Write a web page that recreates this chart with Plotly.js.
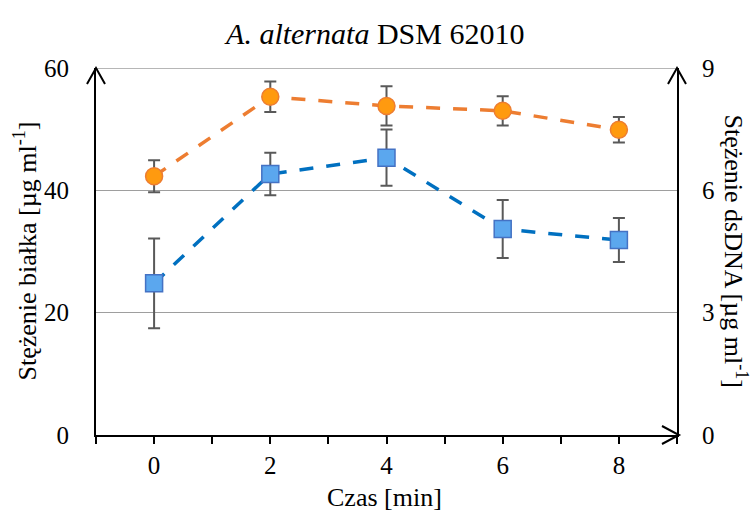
<!DOCTYPE html>
<html>
<head>
<meta charset="utf-8">
<script src="https://cdn.plot.ly/plotly-3.0.1.min.js"></script>
<style>html,body{margin:0;padding:0;background:#fff;}#chart{width:752px;height:514px;}</style>
</head>
<body>
<div id="chart"></div>
<script>
// Data
var times = [0, 2, 4, 6, 8];
var protein = [42.3, 55.3, 53.8, 53.0, 49.9];       // left axis [µg ml-1]
var proteinErr = [2.6, 2.5, 3.2, 2.4, 2.1];
var dsdna = [3.72, 6.4, 6.8, 5.05, 4.78];            // right axis [µg ml-1]
var dsdnaErr = [1.1, 0.52, 0.69, 0.71, 0.54];
var xTickVals = [-1, 0, 1, 2, 3, 4, 5, 6, 7, 8, 9];
var xTickText = ["", "0", "", "2", "", "4", "", "6", "", "8", ""];
var yTickVals = [0, 20, 40, 60];
var y2TickVals = [0, 3, 6, 9];

var FONT = "Liberation Serif, Times New Roman, serif";
var GRID = '#9E9E9E';

var traceProtein = {
  x: times, y: protein, type: 'scatter', mode: 'lines+markers', yaxis: 'y',
  line: {color: '#ED7D31', width: 3.5, dash: '14px,13px'},
  marker: {symbol: 'circle', size: 17, color: '#FF9A0F', line: {color: '#ED7D31', width: 1.5}},
  error_y: {type: 'data', array: proteinErr, visible: true, color: '#595959', thickness: 2, width: 6},
  showlegend: false, hoverinfo: 'x+y'
};
var traceDNA = {
  x: times, y: dsdna, type: 'scatter', mode: 'lines+markers', yaxis: 'y2',
  line: {color: '#0070C0', width: 3.5, dash: '14px,13px'},
  marker: {symbol: 'square', size: 17, color: '#5BA7EE', line: {color: '#4472C4', width: 1.5}},
  error_y: {type: 'data', array: dsdnaErr, visible: true, color: '#595959', thickness: 2, width: 6},
  showlegend: false, hoverinfo: 'x+y'
};

function chevronUp(xa, ya) {
  return {type: 'path', xref: 'paper', yref: 'paper', xsizemode: 'pixel', ysizemode: 'pixel',
    xanchor: xa, yanchor: ya, path: 'M-9,-16 L0,0 L9,-16', line: {color: '#000', width: 2}};
}

var layout = {
  width: 752, height: 514,
  margin: {l: 96, r: 75, t: 68, b: 79},
  paper_bgcolor: '#fff', plot_bgcolor: '#fff',
  font: {family: FONT, size: 25, color: '#000'},
  title: {text: '<i>A. alternata</i> DSM 62010', font: {family: FONT, size: 30, color: '#000'},
    x: 0.499, xref: 'container', xanchor: 'center', y: 1 - 33/514, yref: 'container', yanchor: 'middle'},
  xaxis: {range: [-1, 9], tickmode: 'array', tickvals: xTickVals, ticktext: xTickText,
    ticks: 'outside', ticklen: 7, tickwidth: 2, tickcolor: '#000',
    showline: true, linecolor: '#000', linewidth: 2, showgrid: false, zeroline: false,
    tickfont: {family: FONT, size: 25, color: '#000'}, fixedrange: true},
  yaxis: {range: [0, 60], tickmode: 'array', tickvals: yTickVals,
    ticks: '', showline: true, linecolor: '#000', linewidth: 2,
    showgrid: true, gridcolor: GRID, gridwidth: 1.5, zeroline: false,
    ticklabelstandoff: 20, tickfont: {family: FONT, size: 25, color: '#000'}, fixedrange: true},
  yaxis2: {range: [0, 9], tickmode: 'array', tickvals: y2TickVals, overlaying: 'y', side: 'right',
    ticks: '', showline: true, linecolor: '#000', linewidth: 2, showgrid: false, zeroline: false,
    ticklabelstandoff: 18, tickfont: {family: FONT, size: 25, color: '#000'}, fixedrange: true},
  annotations: [
    {text: 'Stężenie białka [µg ml<sup>-1</sup>]', xref: 'paper', yref: 'paper', x: 0, y: 0.5,
      xshift: -70, textangle: -90, showarrow: false, xanchor: 'center', yanchor: 'middle',
      font: {family: FONT, size: 26, color: '#000'}},
    {text: 'Stężenie dsDNA [µg ml<sup>-1</sup>]', xref: 'paper', yref: 'paper', x: 1, y: 0.5,
      xshift: 58, textangle: 90, showarrow: false, xanchor: 'center', yanchor: 'middle',
      font: {family: FONT, size: 26, color: '#000'}},
    {text: 'Czas [min]', xref: 'paper', yref: 'paper', x: 0.497, y: 0, yshift: -62,
      showarrow: false, xanchor: 'center', yanchor: 'middle',
      font: {family: FONT, size: 26, color: '#000'}}
  ],
  shapes: [
    // top gridline at the last left-axis tick
    {type: 'line', xref: 'paper', yref: 'y', x0: 0, x1: 1,
      y0: yTickVals[yTickVals.length - 1], y1: yTickVals[yTickVals.length - 1],
      line: {color: GRID, width: 1.5}, layer: 'below'},
    chevronUp(0, 1),
    chevronUp(1, 1),
    {type: 'path', xref: 'paper', yref: 'paper', xsizemode: 'pixel', ysizemode: 'pixel',
      xanchor: 1, yanchor: 0, path: 'M-15,9 L2,0 L-15,-9', line: {color: '#000', width: 2}}
  ]
};

Plotly.newPlot('chart', [traceDNA, traceProtein], layout, {displayModeBar: false, staticPlot: true});
</script>
</body>
</html>
